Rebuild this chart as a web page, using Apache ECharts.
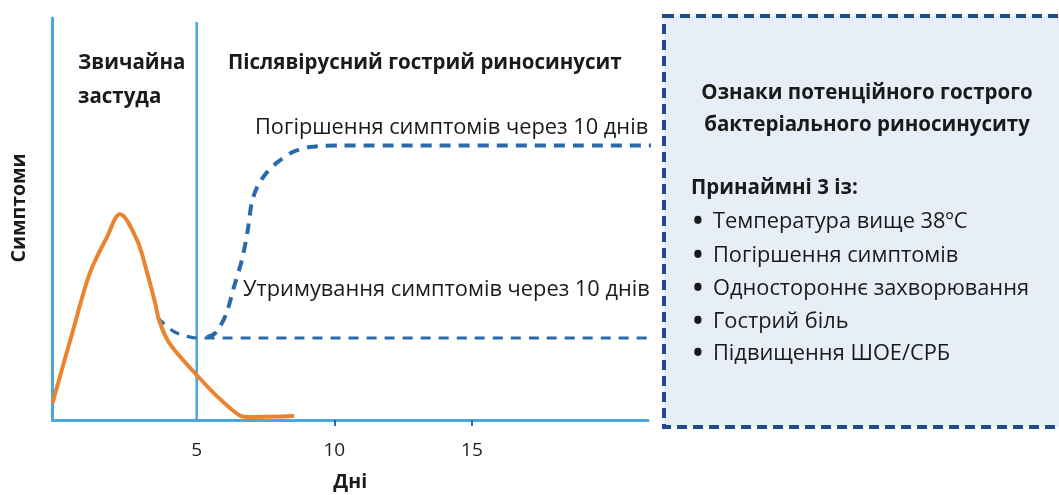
<!DOCTYPE html>
<html>
<head>
<meta charset="utf-8">
<script src="https://cdn.jsdelivr.net/npm/echarts@6/dist/echarts.min.js"></script>
<style>
html,body{margin:0;padding:0;background:#fff;}
#chart{width:1059px;height:495px;}
</style>
</head>
<body>
<div id="chart"></div>
<script>
// ---- data ----
const tickLabels = [5, 10, 15];
const minorTicks = [10, 15];
const coldX = [-0.24, 0.51, 1.12, 1.74, 2.21, 2.83, 3.2, 3.49, 3.63, 4.0, 5.0, 5.77, 6.54, 6.83, 8.54];
const coldY = [4.2, 22.4, 36.6, 45.5, 51.2, 44.8, 36.6, 29.1, 24.9, 19.2, 11.2, 5.7, 1.2, 0.75, 1.0];
const persistX = [3.56, 4.14, 4.61, 5.0, 21.84];
const persistY = [25.6, 22.1, 20.9, 20.4, 20.4];
const worsenX = [5.37, 5.67, 6.05, 6.35, 6.65, 6.85, 7.0, 7.2, 7.55, 7.95, 8.5, 9.1, 10.2, 21.84];
const worsenY = [20.6, 21.6, 26.0, 33.0, 40.0, 47.0, 54.0, 58.0, 61.6, 64.2, 66.7, 67.9, 68.3, 68.3];
const dividerDay = 5;
const criteria = ['Температура вище 38ºC', 'Погіршення симптомів', 'Одностороннє захворювання', 'Гострий біль', 'Підвищення ШОЕ/СРБ'];

const zip = (xs, ys) => xs.map((x, i) => [x, ys[i]]);
const FONT = '"Open Sans"';
const axisColor = '#4aa8dc';
const txt = '#1a1a1a';
const B = 'bold 20.5px ' + FONT;
const R = '21.8px ' + FONT;

const chart = echarts.init(document.getElementById('chart'));

const graphics = [
  { type: 'rect', z: 0, shape: { x: 664, y: 16, width: 430, height: 411 },
    style: { fill: '#e8eef7', stroke: '#1f4a8a', lineWidth: 4, lineDash: [10, 6] } },
  { type: 'text', x: 19, y: 208, rotation: Math.PI / 2, style: { text: 'Симптоми', font: 'bold 19.5px ' + FONT, fill: txt, textAlign: 'center', textVerticalAlign: 'middle' } },
  { type: 'text', x: 78, y: 63, style: { text: 'Звичайна', font: B, fill: txt, textVerticalAlign: 'middle' } },
  { type: 'text', x: 78, y: 97, style: { text: 'застуда', font: B, fill: txt, textVerticalAlign: 'middle' } },
  { type: 'text', x: 228, y: 63, style: { text: 'Післявірусний гострий риносинусит', font: B, fill: txt, textVerticalAlign: 'middle' } },
  { type: 'text', x: 255, y: 128, style: { text: 'Погіршення симптомів через 10 днів', font: R, fill: txt, textVerticalAlign: 'middle' } },
  { type: 'text', x: 243, y: 290, style: { text: 'Утримування симптомів через 10 днів', font: R, fill: txt, textVerticalAlign: 'middle' } },
  { type: 'text', x: 867, y: 93, style: { text: 'Ознаки потенційного гострого', font: B, fill: txt, textAlign: 'center', textVerticalAlign: 'middle' } },
  { type: 'text', x: 867, y: 125, style: { text: 'бактеріального риносинуситу', font: B, fill: txt, textAlign: 'center', textVerticalAlign: 'middle' } },
  { type: 'text', x: 691, y: 188, style: { text: 'Принаймні 3 із:', font: B, fill: txt, textVerticalAlign: 'middle' } }
];
const rowY = [222, 256, 289, 322, 354];
criteria.forEach((t, i) => {
  graphics.push({ type: 'text', x: 693, y: rowY[i] + 1, style: { text: '•', font: 'bold 26px ' + FONT, fill: txt, textVerticalAlign: 'middle' } });
  graphics.push({ type: 'text', x: 713, y: rowY[i], style: { text: t, font: R, fill: txt, textVerticalAlign: 'middle' } });
});

chart.setOption({
  animation: false,
  backgroundColor: '#ffffff',
  grid: { left: 52.5, top: 18, width: 595.5, height: 402, containLabel: false, outerBoundsMode: 'none' },
  xAxis: {
    type: 'value', min: -0.24, max: 21.4,
    name: 'Дні', nameLocation: 'middle', nameGap: 52,
    nameTextStyle: { fontFamily: 'Open Sans', fontWeight: 'bold', fontSize: 19.5, color: txt },
    axisLine: { show: true, onZero: false, lineStyle: { color: axisColor, width: 3 } },
    axisTick: { show: true, customValues: minorTicks, length: 6, lineStyle: { color: '#2a6aab', width: 2 } },
    axisLabel: { customValues: tickLabels, margin: 21, fontFamily: 'Open Sans', fontSize: 19, color: '#222' },
    splitLine: { show: false }
  },
  yAxis: {
    type: 'value', min: 0, max: 100,
    axisLine: { show: true, onZero: false, lineStyle: { color: axisColor, width: 3 } },
    axisTick: { show: false }, axisLabel: { show: false }, splitLine: { show: false }
  },
  graphic: graphics,
  series: [
    { type: 'line', name: 'divider', data: [[dividerDay, 0], [dividerDay, 99]], symbol: 'none',
      lineStyle: { color: axisColor, width: 2.5 }, z: 1 },
    { type: 'line', name: 'persist', data: zip(persistX, persistY), symbol: 'none', smooth: 0.3, clip: false,
      lineStyle: { color: '#2a6aab', width: 3.2, type: [10, 8] }, z: 2 },
    { type: 'line', name: 'worsen', data: zip(worsenX, worsenY), symbol: 'none', smooth: 0.3, clip: false,
      lineStyle: { color: '#2a6aab', width: 4, type: [11, 8] }, z: 2 },
    { type: 'line', name: 'cold', data: zip(coldX, coldY), symbol: 'none', smooth: 0.35, clip: false,
      lineStyle: { color: '#e98530', width: 4 }, z: 3 }
  ]
});
</script>
</body>
</html>
